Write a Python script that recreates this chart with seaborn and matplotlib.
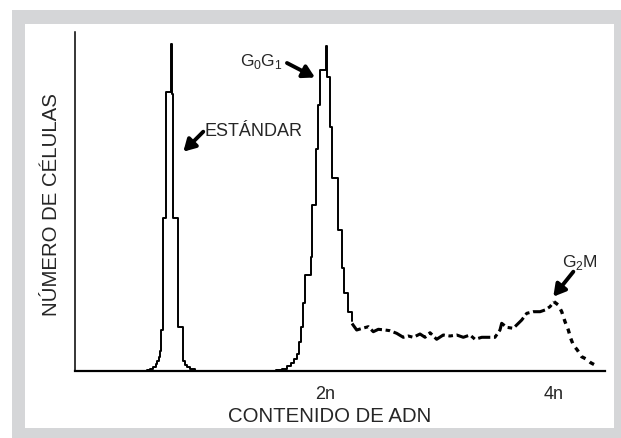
import seaborn as sns
import numpy as np
import matplotlib.pyplot as plt
from matplotlib.patches import Rectangle

# DNA content (units of n) and cell counts
# standard peak, step histogram (bin left edges / counts)
std_dna = [0.40, 0.429, 0.458, 0.485, 0.507, 0.524, 0.537, 0.546, 0.552, 0.570, 0.599,
           0.640, 0.649, 0.658, 0.707, 0.745, 0.752, 0.766, 0.783, 0.809, 0.853]
std_cells = [0, 0.5, 2, 4, 7, 10, 14, 20, 40.5, 152.5, 278.8,
             326.5, 276.5, 152.5, 44, 14, 10, 6, 3.5, 1.2, 0]

# G0G1 peak, step histogram
g1_dna = [1.50, 1.565, 1.617, 1.661, 1.696, 1.723, 1.745, 1.766, 1.784, 1.799,
          1.819, 1.872, 1.883, 1.916, 1.936, 1.951, 2.001, 2.012, 2.039, 2.059,
          2.112, 2.141, 2.164, 2.199, 2.232]
g1_cells = [0, 0.5, 2, 4.5, 8, 12, 17, 28.8, 43.8, 67.2,
            95.5, 113.8, 165.5, 222, 265.5, 300.5, 324.5, 293.8, 243.8, 192.2,
            140.5, 102.2, 77.2, 58.8, 50]

# S phase up to the G2M peak (noisy trace)
s_dna = [2.232, 2.273, 2.317, 2.375, 2.419, 2.463, 2.522, 2.565, 2.624, 2.682,
         2.726, 2.770, 2.829, 2.873, 2.917, 2.975, 3.033, 3.092, 3.151, 3.209,
         3.268, 3.312, 3.371, 3.428, 3.487, 3.531, 3.546, 3.590, 3.648, 3.722,
         3.766, 3.824, 3.883, 3.926, 3.970, 4.005]
s_cells = [47, 40.5, 42, 43.8, 38.8, 41.2, 40.5, 39.8, 37.2, 33.2,
           34.5, 33.2, 36.5, 33.2, 37.8, 31.2, 35.5, 34.5, 35.5, 33.2,
           35.5, 31.2, 33.2, 33.2, 33.2, 40.5, 47.2, 43.2, 42.2, 50.5,
           57.2, 58.8, 58.8, 60.5, 63.8, 68.8]

# falling edge after G2M (dotted in the original)
g2_dna = [4.005, 4.043, 4.073, 4.102, 4.131, 4.152, 4.175, 4.210, 4.248, 4.292,
          4.327, 4.365, 4.394]
g2_cells = [68.8, 65.5, 58.8, 48.8, 40.5, 32.2, 25.5, 20.5, 13.8, 11.2,
            7.8, 5.5, 3.2]

tick_pos = [2, 4]
tick_labels = ["2n", "4n"]

sns.set_style("white")
plt.rcParams['font.family'] = ['Liberation Sans', 'DejaVu Sans']
plt.rcParams['mathtext.fontset'] = 'custom'
plt.rcParams['mathtext.rm'] = 'Liberation Sans'

fig = plt.figure(figsize=(6.21, 4.38), dpi=100)
fig.patch.set_facecolor("white")
# grey frame with white panel
fig.patches.append(Rectangle((12/621, 0), 1 - 12/621, 1 - 10/438, transform=fig.transFigure,
                             facecolor="#d5d6d8", edgecolor="none", zorder=-10))
fig.patches.append(Rectangle((24.5/621, 10/438), (613.5 - 24.5)/621, (428 - 24)/438,
                             transform=fig.transFigure, facecolor="white", edgecolor="none", zorder=-9))

ax = fig.add_axes([75/621, 1 - 370.5/438, 530/621, 338.5/438])
ax.patch.set_alpha(0)

sns.lineplot(x=std_dna, y=std_cells, drawstyle="steps-post", color="black", lw=1.4,
             estimator=None, sort=False, ax=ax)
sns.lineplot(x=g1_dna, y=g1_cells, drawstyle="steps-post", color="black", lw=1.4,
             estimator=None, sort=False, ax=ax)
sns.lineplot(x=s_dna, y=s_cells, color="black", lw=2.2, linestyle=(0, (4, 1.2, 1.5, 1.2)),
             estimator=None, sort=False, ax=ax)
sns.lineplot(x=g2_dna, y=g2_cells, color="black", lw=2.4, linestyle=(0, (1.5, 1.6)),
             estimator=None, sort=False, ax=ax)

ax.set_xlim(-0.2, 4.453)
ax.set_ylim(0, 338.5)
ax.set_yticks([])
ax.set_xticks(tick_pos)
ax.set_xticklabels(tick_labels, fontsize=13)
ax.tick_params(axis="x", direction="in", length=10, width=1.2, color="black", pad=11)

for side in ["top", "right"]:
    ax.spines[side].set_visible(False)
ax.spines["left"].set_color("black")
ax.spines["left"].set_linewidth(1.1)
ax.spines["bottom"].set_color("black")
ax.spines["bottom"].set_linewidth(1.6)

ax.set_xlabel("CONTENIDO DE ADN", fontsize=14.7)
ax.xaxis.set_label_coords(0.48, -0.108)
ax.set_ylabel("NÚMERO DE CÉLULAS", fontsize=14.7)
ax.yaxis.set_label_coords(-0.026, 0.489)

arrow = dict(arrowstyle="-|>,head_length=0.7,head_width=0.4", lw=2.8, color="black",
             shrinkA=0, shrinkB=0)

ax.text(0.941, 238.8, "ESTÁNDAR", fontsize=13, va="center", ha="left")
ax.annotate("", xy=(0.751, 218.8), xytext=(0.926, 238.8), arrowprops=arrow)

ax.text(1.248, 304.5, "G$_0$G$_1$", fontsize=12.5, va="baseline", ha="left")
ax.annotate("", xy=(1.907, 293.0), xytext=(1.661, 307.5), arrowprops=arrow)

ax.text(4.073, 103.8, "G$_2$M", fontsize=12.5, va="baseline", ha="left")
ax.annotate("", xy=(3.999, 73.8), xytext=(4.175, 98.8), arrowprops=arrow)

plt.savefig("out.png", dpi=100)
